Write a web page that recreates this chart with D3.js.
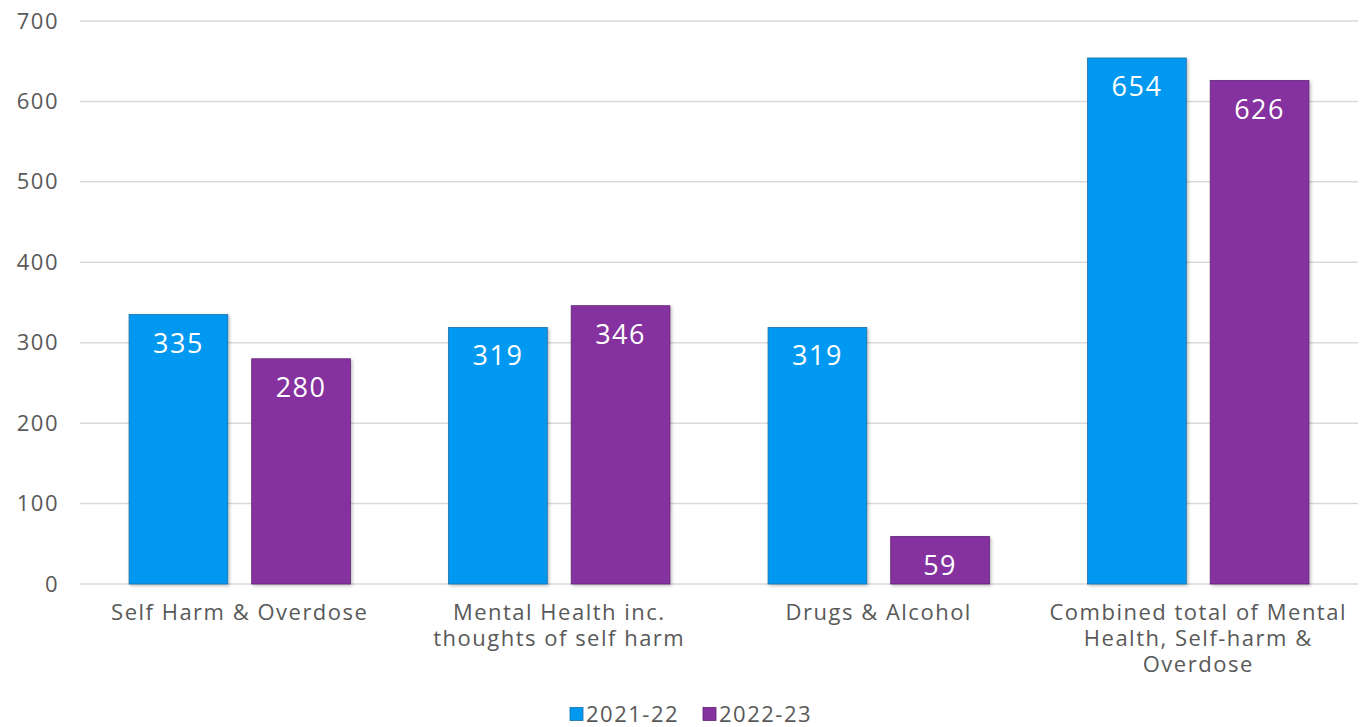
<!DOCTYPE html>
<html>
<head>
<meta charset="utf-8">
<script src="https://cdn.jsdelivr.net/npm/d3@7"></script>
<style>
  body { margin: 0; background: #fff; }
  svg text { font-family: "Open Sans", "Noto Sans", sans-serif; letter-spacing: 1.5px; }
</style>
</head>
<body>
<div id="chart"></div>
<script>
const categories = [
  ['Self Harm & Overdose'],
  ['Mental Health inc.', 'thoughts of self harm'],
  ['Drugs & Alcohol'],
  ['Combined total of Mental', 'Health, Self-harm &', 'Overdose']
]
const seriesNames = ['2021-22', '2022-23']
const values2122 = [335, 319, 319, 654]
const values2223 = [280, 346, 59, 626]
const yTicks = [0, 100, 200, 300, 400, 500, 600, 700]
const colors = ['#0098f0', '#8533a0']
const strokes = ['#1a6fa8', '#5e2272']

const width = 1365, height = 727
const plotLeft = 80, plotRight = 1358, plotTop = 21, plotBottom = 584

const svg = d3.select('#chart').append('svg')
  .attr('width', width).attr('height', height)

const defs = svg.append('defs')
const f = defs.append('filter').attr('id', 'shadow')
  .attr('x', '-10%').attr('y', '-10%').attr('width', '130%').attr('height', '130%')
f.append('feDropShadow').attr('dx', 1.5).attr('dy', 1.5).attr('stdDeviation', 1.5)
  .attr('flood-color', '#000').attr('flood-opacity', 0.25)

const yScale = d3.scaleLinear().domain([0, 700]).range([plotBottom, plotTop])
const xScale = d3.scaleBand().domain(d3.range(categories.length)).range([plotLeft, plotRight])
const inner = d3.scaleBand().domain([0, 1]).range([0, xScale.bandwidth()])
  .paddingInner(0.195).paddingOuter(0.4)

// gridlines
svg.append('g').selectAll('line').data(yTicks).enter().append('line')
  .attr('x1', plotLeft).attr('x2', plotRight)
  .attr('y1', d => yScale(d)).attr('y2', d => yScale(d))
  .attr('stroke', '#d9d9d9').attr('stroke-width', 1.5)

// y axis labels
const yAxis = d3.axisLeft(yScale).tickValues(yTicks).tickSize(0).tickPadding(0)
const yG = svg.append('g').attr('transform', 'translate(59,0)').call(yAxis)
yG.select('.domain').remove()
yG.selectAll('text').attr('fill', '#595959').style('font-size', '22px')

const data = []
categories.forEach((c, i) => {
  data.push({ cat: i, s: 0, v: values2122[i] })
  data.push({ cat: i, s: 1, v: values2223[i] })
})

const bars = svg.append('g')
bars.selectAll('rect').data(data).enter().append('rect')
  .attr('x', d => xScale(d.cat) + inner(d.s))
  .attr('y', d => yScale(d.v))
  .attr('width', inner.bandwidth())
  .attr('height', d => yScale(0) - yScale(d.v))
  .attr('fill', d => colors[d.s])
  .attr('stroke', d => strokes[d.s])
  .attr('stroke-width', 0.8)
  .attr('filter', 'url(#shadow)')

bars.selectAll('text').data(data).enter().append('text')
  .attr('x', d => xScale(d.cat) + inner(d.s) + inner.bandwidth() / 2)
  .attr('y', d => yScale(d.v) + 38)
  .attr('text-anchor', 'middle')
  .attr('fill', '#fff')
  .style('font-size', '27px')
  .text(d => d.v)

// category labels, one text per line
const catLines = []
categories.forEach((lines, i) => lines.forEach((l, j) => catLines.push({ cat: i, line: j, text: l })))
svg.append('g').selectAll('text').data(catLines).enter().append('text')
  .attr('x', d => xScale(d.cat) + xScale.bandwidth() / 2)
  .attr('y', d => 620 + d.line * 26)
  .attr('text-anchor', 'middle')
  .attr('fill', '#595959')
  .style('font-size', '22px')
  .text(d => d.text)

// legend
const legend = svg.append('g').attr('transform', 'translate(570,714)')
const legendX = d3.scaleOrdinal().domain(seriesNames).range([0, 133])
seriesNames.forEach((n, i) => {
  const g = legend.append('g').attr('transform', `translate(${legendX(n)},0)`)
  g.append('rect').attr('x', 0).attr('y', -6.5).attr('width', 13).attr('height', 13)
    .attr('fill', colors[i]).attr('stroke', strokes[i]).attr('stroke-width', 0.8)
  g.append('text').attr('x', 16).attr('y', 8)
    .attr('fill', '#595959').style('font-size', '22px').text(n)
})
</script>
</body>
</html>
